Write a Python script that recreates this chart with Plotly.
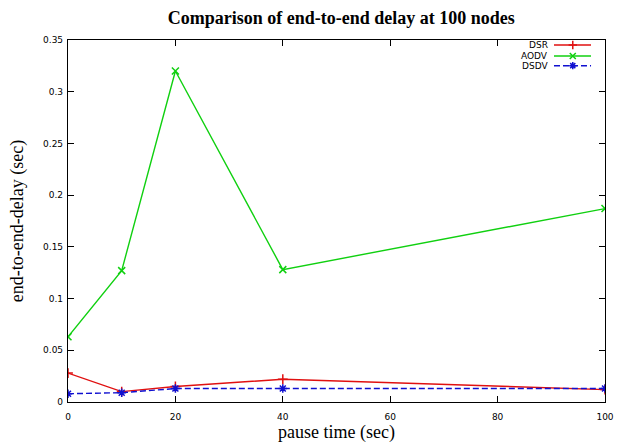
import plotly.graph_objects as go

pause_time = [0, 10, 20, 40, 100]
dsr = [0.028, 0.010, 0.015, 0.022, 0.012]
aodv = [0.063, 0.127, 0.320, 0.128, 0.187]
dsdv = [0.008, 0.009, 0.013, 0.013, 0.013]

series = [
    ("DSR", dsr, "#e01010", "solid", "cross-thin"),
    ("AODV", aodv, "#10d010", "solid", "x-thin"),
    ("DSDV", dsdv, "#1010d0", "6px,3px", "asterisk"),
]

x_ticks = [0, 20, 40, 60, 80, 100]
y_ticks = [0, 0.05, 0.1, 0.15, 0.2, 0.25, 0.3, 0.35]

fig = go.Figure()
for name, vals, color, dash, sym in series:
    fig.add_trace(go.Scatter(
        x=pause_time, y=vals, mode="lines+markers", name=name,
        line=dict(color=color, width=1.4, dash=dash),
        marker=dict(symbol=sym, size=7, color=color, line=dict(color=color, width=1.5)),
        showlegend=False,
    ))

# custom legend (text right-aligned, sample on the right)
leg_y = [0.986, 0.956, 0.929]
for (name, vals, color, dash, sym), ly in zip(series, leg_y):
    fig.add_annotation(x=0.897, y=ly, xref="paper", yref="paper", text=name,
                       showarrow=False, xanchor="right", yanchor="middle",
                       font=dict(family="DejaVu Sans", size=9, color="black"))
    fig.add_shape(type="line", xref="paper", yref="paper", x0=0.905, x1=0.974,
                  y0=ly, y1=ly, line=dict(color=color, width=1.4, dash=dash))
    fig.add_trace(go.Scatter(x=[0.94], y=[ly], xaxis="x2", yaxis="y2", mode="markers",
                             marker=dict(symbol=sym, size=6, color=color,
                                         line=dict(color=color, width=1.5)),
                             showlegend=False, hoverinfo="skip"))

axis_common = dict(showgrid=False, zeroline=False, showline=True, linecolor="black",
                   linewidth=1.2, mirror="ticks", ticks="inside", ticklen=6,
                   tickcolor="black", tickfont=dict(family="DejaVu Sans", size=9, color="black"))

fig.update_layout(
    width=625, height=448,
    margin=dict(l=68, r=11, t=40, b=42),
    paper_bgcolor="white", plot_bgcolor="white",
    title=dict(text="<b>Comparison of end-to-end delay at 100 nodes</b>",
               x=0.546, xanchor="center", y=0.96, yanchor="middle",
               font=dict(family="Liberation Serif", size=18, color="black")),
    xaxis=dict(range=[0, 100], tickvals=x_ticks, ticktext=[str(v) for v in x_ticks],
               ticklabelstandoff=6,
               title=dict(text="pause time (sec)", standoff=2,
                          font=dict(family="Liberation Serif", size=18, color="black")),
               **axis_common),
    yaxis=dict(range=[0, 0.35], tickvals=y_ticks,
               ticktext=["0", "0.05", "0.1", "0.15", "0.2", "0.25", "0.3", "0.35"],
               ticklabelstandoff=2,
               title=dict(text="end-to-end-delay (sec)", standoff=14,
                          font=dict(family="Liberation Serif", size=18, color="black")),
               **axis_common),
    xaxis2=dict(range=[0, 1], overlaying="x", visible=False, domain=[0, 1]),
    yaxis2=dict(range=[0, 1], overlaying="y", visible=False),
)

fig.write_html("out.html")
